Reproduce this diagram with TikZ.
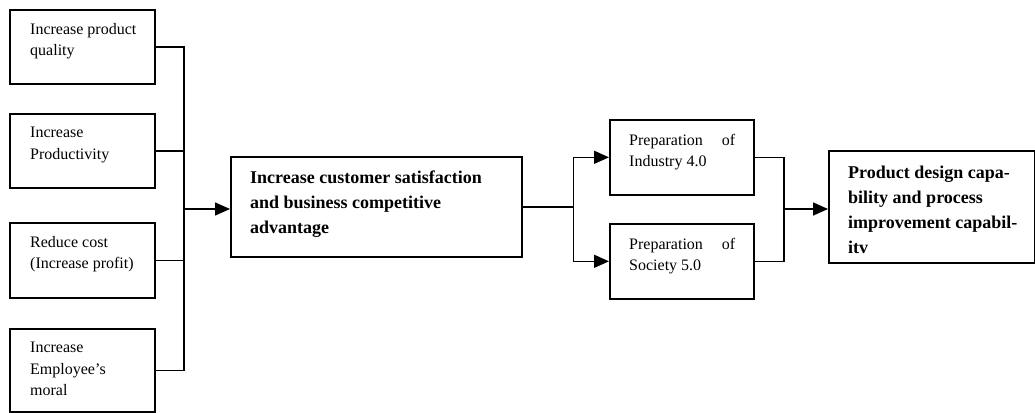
\documentclass[tikz,border=0pt]{standalone}
\usepackage{fontspec}
\setmainfont{Liberation Serif}
\usetikzlibrary{arrows.meta}

\tikzset{
  box/.style={draw, line width=1.6pt, inner sep=0pt, anchor=north west},
  txt/.style={anchor=north west, inner sep=0pt, align=left, font=\fontsize{16}{21.5}\selectfont},
  btxt/.style={anchor=north west, inner sep=0pt, align=left, font=\fontsize{18}{25}\selectfont\bfseries},
  line/.style={line width=1.6pt},
  arr/.style={line width=1.6pt, -{Triangle[length=15pt,width=13pt]}}
}

\begin{document}
\begin{tikzpicture}[x=1pt,y=-1pt]
  \useasboundingbox (0,0) rectangle (1035,412);
  % left column
  \node[box, minimum width=145pt, minimum height=74pt] (q) at (9,9) {};
  \node[box, minimum width=145pt, minimum height=74pt] (p) at (9,113) {};
  \node[box, minimum width=145pt, minimum height=75pt] (r) at (9,222) {};
  \node[box, minimum width=145pt, minimum height=83pt] (m) at (9,328) {};
  \node[txt] (qt) at ([xshift=21pt,yshift=-14pt]q.north west) {Increase product\\quality};
  \node[txt] (pt) at ([xshift=21pt,yshift=-14pt]p.north west) {Increase\\Productivity};
  \node[txt] (rt) at ([xshift=21pt,yshift=-14pt]r.north west) {Reduce cost\\(Increase profit)};
  \node[txt] (mt) at ([xshift=21pt,yshift=-14pt]m.north west) {Increase\\Employee’s\\moral};
  % middle
  \node[box, minimum width=291pt, minimum height=100pt] (c) at (230,156) {};
  \node[btxt] (ct) at ([xshift=20pt,yshift=-14.5pt]c.north west) {Increase customer satisfaction\\and business competitive\\advantage};
  \node[box, minimum width=144pt, minimum height=75pt] (i) at (609,119) {};
  \node[box, minimum width=144pt, minimum height=75pt] (s) at (609,223) {};
  \node[txt] (it) at ([xshift=20pt,yshift=-15pt]i.north west) {\makebox[106pt][s]{Preparation of}\\Industry 4.0};
  \node[txt] (st) at ([xshift=20pt,yshift=-15pt]s.north west) {\makebox[106pt][s]{Preparation of}\\Society 5.0};
  % right
  \node[box, minimum width=206pt, minimum height=112pt] (pd) at (828,150) {};
  \node[btxt] (pdt) at ([xshift=20pt,yshift=-15.8pt]pd.north west) {Product design capa-\\bility and process\\improvement capabil-\\itv};

  \coordinate (jl) at (184,209);
  \path (c.east) -- ++(51,0) coordinate (jm);
  \coordinate (jr) at (784,209);

  \foreach \b in {q,p,r,m} \draw[line] (\b.east) -| (jl);
  \draw[arr] (jl) -- (jl -| c.west);
  \draw[line] (c.east) -- (jm);
  \draw[arr] (jm) |- (i.west);
  \draw[arr] (jm) |- (s.west);
  \draw[line] (i.east) -| (jr);
  \draw[line] (s.east) -| (jr);
  \draw[arr] (jr) -- (jr -| pd.west);
\end{tikzpicture}
\end{document}
